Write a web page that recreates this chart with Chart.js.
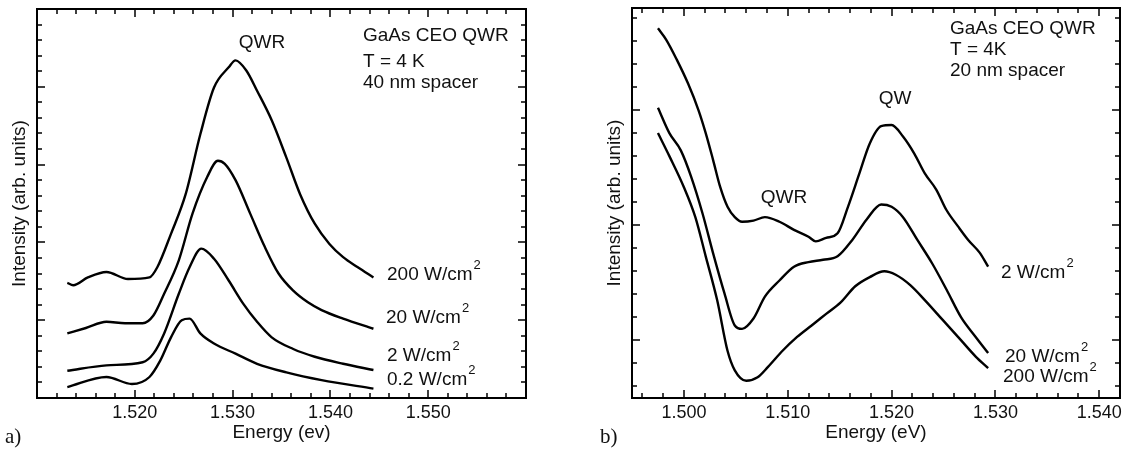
<!DOCTYPE html>
<html>
<head>
<meta charset="utf-8">
<script src="https://cdn.jsdelivr.net/npm/chart.js@4.4.1/dist/chart.umd.min.js"></script>
<style>
  html, body { margin: 0; padding: 0; background: #fff; }
  #wrap { position: relative; width: 1129px; height: 449px; }
  canvas { position: absolute; top: 0; }
  #chartA { left: 0; }
  #chartB { left: 560px; }
</style>
</head>
<body>
<div id="wrap">
  <canvas id="chartA" width="560" height="449"></canvas>
  <canvas id="chartB" width="569" height="449"></canvas>
</div>
<script>
// === Panel a) 40 nm spacer, energy (eV) / intensity (arb. units) ===
const energyA200 = [1.5131, 1.5137, 1.5152, 1.5171, 1.5193, 1.5215, 1.5223, 1.5237, 1.5252, 1.5267, 1.5281, 1.5296, 1.5303, 1.5314, 1.5325, 1.534, 1.5355, 1.5369, 1.5384, 1.5399, 1.5413, 1.5428, 1.5444];
const intensityA200 = [1.48, 1.45, 1.55, 1.62, 1.53, 1.55, 1.68, 2.11, 2.62, 3.39, 3.99, 4.25, 4.34, 4.21, 3.95, 3.57, 3.09, 2.62, 2.24, 1.98, 1.81, 1.68, 1.55];

const energyA20 = [1.5131, 1.515, 1.5171, 1.519, 1.5208, 1.5219, 1.523, 1.5245, 1.5259, 1.5274, 1.5285, 1.5292, 1.5303, 1.5318, 1.5333, 1.5347, 1.5362, 1.5377, 1.5391, 1.5413, 1.5444];
const intensityA20 = [0.83, 0.9, 0.98, 0.96, 0.96, 1.06, 1.34, 1.77, 2.37, 2.84, 3.05, 3.01, 2.8, 2.37, 1.94, 1.6, 1.38, 1.23, 1.13, 1.02, 0.89];

const energyA2 = [1.5131, 1.5171, 1.5208, 1.5219, 1.523, 1.5245, 1.5256, 1.5268, 1.5281, 1.5296, 1.5311, 1.5325, 1.534, 1.5362, 1.5384, 1.5413, 1.5444];
const intensityA2 = [0.35, 0.42, 0.46, 0.57, 0.83, 1.34, 1.68, 1.92, 1.79, 1.51, 1.21, 0.98, 0.78, 0.63, 0.53, 0.44, 0.36];

const energyA02 = [1.5131, 1.5171, 1.5197, 1.5215, 1.5226, 1.5237, 1.5248, 1.5256, 1.5267, 1.5281, 1.5303, 1.5325, 1.5355, 1.5391, 1.5444];
const intensityA02 = [0.14, 0.27, 0.18, 0.27, 0.48, 0.78, 1.0, 1.02, 0.83, 0.7, 0.57, 0.44, 0.33, 0.23, 0.12];

// === Panel b) 20 nm spacer ===
const energyB2 = [1.4975, 1.4983, 1.4993, 1.5004, 1.5014, 1.5021, 1.5028, 1.5035, 1.5042, 1.5049, 1.5056, 1.5067, 1.5078, 1.5092, 1.5106, 1.512, 1.5127, 1.5137, 1.5148, 1.5158, 1.5169, 1.5179, 1.519, 1.52, 1.5211, 1.5222, 1.5232, 1.5243, 1.5253, 1.5264, 1.5274, 1.5285, 1.5293];
const intensityB2 = [2.71, 2.61, 2.44, 2.23, 2.0, 1.8, 1.57, 1.33, 1.16, 1.07, 1.03, 1.04, 1.07, 1.03, 0.96, 0.9, 0.86, 0.89, 0.93, 1.16, 1.45, 1.71, 1.86, 1.87, 1.77, 1.62, 1.45, 1.31, 1.13, 0.99, 0.87, 0.76, 0.64];

const energyB20 = [1.4975, 1.4986, 1.4997, 1.5007, 1.5018, 1.5028, 1.5039, 1.5049, 1.5056, 1.5067, 1.5078, 1.5092, 1.5106, 1.512, 1.5134, 1.5148, 1.5162, 1.5176, 1.519, 1.52, 1.5211, 1.5225, 1.5239, 1.5253, 1.5267, 1.5281, 1.5293];
const intensityB20 = [2.02, 1.8, 1.65, 1.42, 1.1, 0.76, 0.41, 0.13, 0.1, 0.19, 0.38, 0.52, 0.64, 0.68, 0.7, 0.73, 0.87, 1.05, 1.18, 1.16, 1.07, 0.87, 0.67, 0.44, 0.2, 0.03, -0.11];

const energyB200 = [1.4975, 1.4986, 1.5, 1.5011, 1.5021, 1.5032, 1.5042, 1.5049, 1.506, 1.5071, 1.5081, 1.5095, 1.5109, 1.5123, 1.5137, 1.5151, 1.5165, 1.5179, 1.5193, 1.5204, 1.5218, 1.5232, 1.5249, 1.5267, 1.5281, 1.5293];
const intensityB200 = [1.8, 1.6, 1.33, 1.07, 0.73, 0.35, -0.09, -0.26, -0.35, -0.32, -0.23, -0.09, 0.03, 0.13, 0.23, 0.33, 0.47, 0.55, 0.6, 0.57, 0.48, 0.35, 0.18, 0.0, -0.14, -0.24];

// axis ranges, labelled ticks and tick steps
const rangeXA = [1.51, 1.56];
const rangeYA = [0, 5];
const rangeXB = [1.495, 1.542];
const rangeYB = [-0.5, 2.886];
const tickLabelsA = [1.52, 1.53, 1.54, 1.55];
const tickLabelsB = [1.5, 1.51, 1.52, 1.53, 1.54];
const minorX = 0.002, majorX = 0.01;
const minorY = 0.2, majorY = 1;

const FONT = "'Liberation Sans', Arial, Helvetica, sans-serif";

function toPoints(xs, ys) {
  return xs.map((x, i) => ({ x: x, y: ys[i] }));
}

function isMajor(v, step) {
  return Math.abs(v / step - Math.round(v / step)) < 1e-6;
}

function stepTicks(min, max, step) {
  const out = [];
  const n0 = Math.ceil(min / step - 1e-9);
  const n1 = Math.floor(max / step + 1e-9);
  for (let n = n0; n <= n1; n++) out.push({ value: +(n * step).toFixed(6) });
  return out;
}

// Box frame, inward tick marks on all four sides, and the text notes
const framePlugin = {
  id: "frame",
  afterDatasetsDraw(chart, args, opts) {
    const { ctx, chartArea: a } = chart;
    const xs = chart.scales.x;
    const ys = chart.scales.y;
    ctx.save();
    ctx.strokeStyle = "#000";
    ctx.lineWidth = 1.5;
    ctx.beginPath();
    xs.ticks.forEach((t) => {
      const p = Math.round(xs.getPixelForValue(t.value));
      const len = isMajor(t.value, majorX) ? 8 : 5;
      ctx.moveTo(p, a.bottom);
      ctx.lineTo(p, a.bottom - len);
      ctx.moveTo(p, a.top);
      ctx.lineTo(p, a.top + len);
    });
    ys.ticks.forEach((t) => {
      const p = Math.round(ys.getPixelForValue(t.value));
      const len = isMajor(t.value, majorY) ? 8 : 5;
      ctx.moveTo(a.left, p);
      ctx.lineTo(a.left + len, p);
      ctx.moveTo(a.right, p);
      ctx.lineTo(a.right - len, p);
    });
    ctx.stroke();
    ctx.lineWidth = 2;
    ctx.strokeRect(a.left, a.top, a.right - a.left, a.bottom - a.top);

    ctx.fillStyle = "#111";
    ctx.textBaseline = "middle";
    (opts.notes || []).forEach((n) => {
      ctx.font = n.serif ? "21px 'Liberation Serif', 'Times New Roman', serif" : "19px " + FONT;
      ctx.textAlign = n.align || "left";
      ctx.fillText(n.text, n.x, n.y);
      if (n.sup) {
        const w = ctx.measureText(n.text).width;
        ctx.font = "13px " + FONT;
        ctx.textAlign = "left";
        ctx.fillText(n.sup, n.x + w + 1, n.y - 10);
      }
    });
    ctx.restore();
  },
};

function lineSet(xs, ys) {
  return {
    data: toPoints(xs, ys),
    showLine: true,
    borderColor: "#000",
    borderWidth: 2.4,
    pointRadius: 0,
    cubicInterpolationMode: "monotone",
  };
}

function makeChart(id, datasets, rx, ry, labels, xTitle, padLeft, padRight, padTop, notes) {
  const plotBottom = 398;
  const shown = (v) => labels.some((l) => Math.abs(l - v) < 1e-6);
  return new Chart(document.getElementById(id), {
    type: "scatter",
    data: { datasets: datasets },
    options: {
      responsive: false,
      animation: false,
      layout: { padding: { left: padLeft, right: padRight, top: padTop, bottom: 0 } },
      plugins: {
        legend: { display: false },
        tooltip: { enabled: false },
        frame: { notes: notes },
      },
      scales: {
        x: {
          type: "linear",
          min: rx[0],
          max: rx[1],
          afterBuildTicks: (s) => { s.ticks = stepTicks(rx[0], rx[1], minorX); },
          afterFit: (s) => { s.height = 449 - plotBottom; },
          grid: { display: false, drawTicks: false },
          border: { display: false },
          ticks: {
            autoSkip: false,
            maxRotation: 0,
            minRotation: 0,
            padding: 4,
            color: "#111",
            font: { family: FONT, size: 18 },
            callback: (v) => (shown(v) ? v.toFixed(3) : ""),
          },
          title: {
            display: true,
            text: xTitle,
            color: "#111",
            font: { family: FONT, size: 19 },
            padding: { top: 0, bottom: 4.6 },
          },
        },
        y: {
          type: "linear",
          min: ry[0],
          max: ry[1],
          afterBuildTicks: (s) => { s.ticks = stepTicks(ry[0], ry[1], minorY); },
          afterFit: (s) => { s.width = 37; },
          grid: { display: false, drawTicks: false },
          border: { display: false },
          ticks: { display: false },
          title: {
            display: true,
            text: "Intensity (arb. units)",
            color: "#111",
            font: { family: FONT, size: 19 },
            padding: { top: 8.6, bottom: 0 },
          },
        },
      },
    },
    plugins: [framePlugin],
  });
}

makeChart(
  "chartA",
  [
    lineSet(energyA200, intensityA200),
    lineSet(energyA20, intensityA20),
    lineSet(energyA2, intensityA2),
    lineSet(energyA02, intensityA02),
  ],
  rangeXA,
  rangeYA,
  tickLabelsA,
  "Energy (ev)",
  0, 34, 9,
  [
    { text: "QWR", x: 262, y: 43, align: "center" },
    { text: "GaAs CEO QWR", x: 363, y: 36 },
    { text: "T = 4 K", x: 363, y: 62 },
    { text: "40 nm spacer", x: 363, y: 83 },
    { text: "200 W/cm", sup: "2", x: 387, y: 275 },
    { text: "20 W/cm", sup: "2", x: 386, y: 318 },
    { text: "2 W/cm", sup: "2", x: 387, y: 356 },
    { text: "0.2 W/cm", sup: "2", x: 387, y: 380 },
    { text: "a)", x: 5, y: 437, serif: true },
  ]
);

makeChart(
  "chartB",
  [
    lineSet(energyB2, intensityB2),
    lineSet(energyB20, intensityB20),
    lineSet(energyB200, intensityB200),
  ],
  rangeXB,
  rangeYB,
  tickLabelsB,
  "Energy (eV)",
  35, 9, 8,
  [
    { text: "GaAs CEO QWR", x: 390, y: 29 },
    { text: "T = 4K", x: 390, y: 50 },
    { text: "20 nm spacer", x: 390, y: 71 },
    { text: "QW", x: 335, y: 99, align: "center" },
    { text: "QWR", x: 224, y: 198, align: "center" },
    { text: "2 W/cm", sup: "2", x: 441, y: 273 },
    { text: "20 W/cm", sup: "2", x: 445, y: 357 },
    { text: "200 W/cm", sup: "2", x: 443, y: 377 },
    { text: "b)", x: 40, y: 437, serif: true },
  ]
);
</script>
</body>
</html>
